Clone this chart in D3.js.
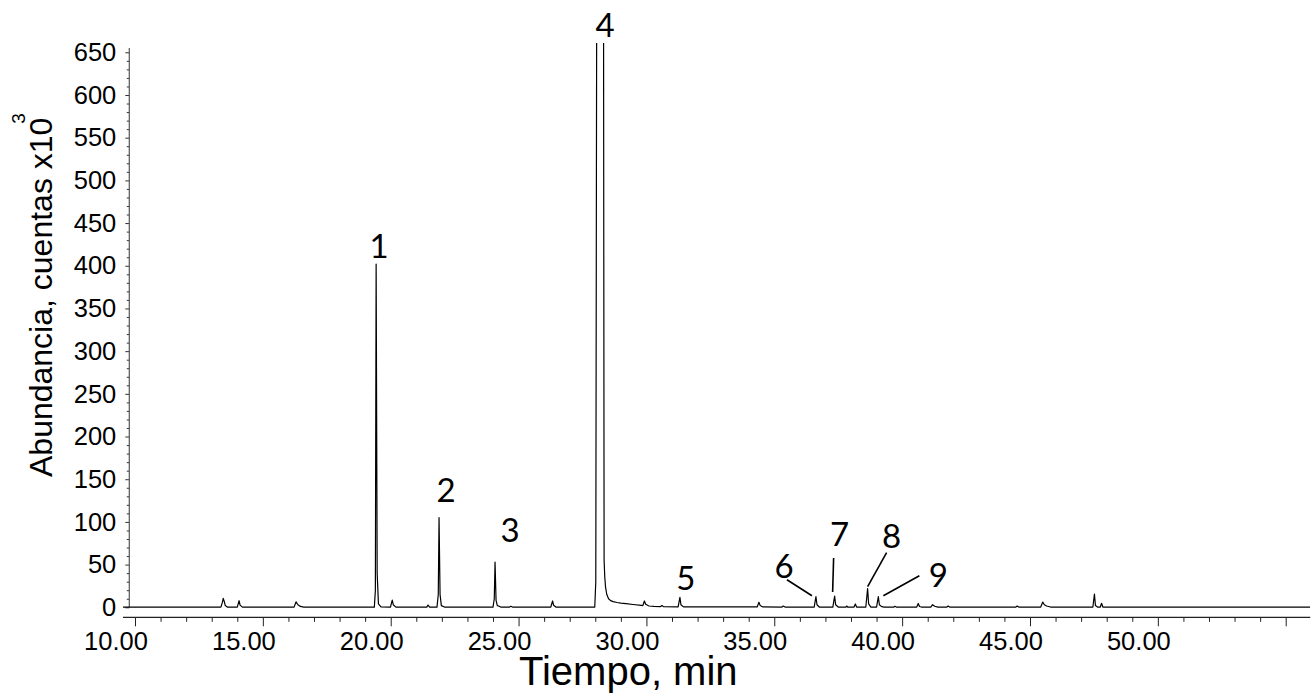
<!DOCTYPE html>
<html>
<head>
<meta charset="utf-8">
<script src="https://cdn.jsdelivr.net/npm/d3@7"></script>
<style>
  html, body { margin: 0; padding: 0; background: #fff; }
  svg { display: block; }
  .tick text { font-family: "Liberation Sans", Arial, sans-serif; fill: #000; }
</style>
</head>
<body>
<svg id="chart" width="1311" height="695"></svg>
<script>
// Chromatogram trace: retention time (min) and abundance (counts x10^3)
const traceTime = [
  9.53, 13.36, 13.42, 13.45, 13.49, 13.53, 13.62,
  14.00, 14.07, 14.11, 14.20,
  16.22, 16.30, 16.37, 16.47, 16.60,
  19.36, 19.40, 19.43, 19.47, 19.52, 19.62,
  19.99, 20.06, 20.10, 20.20,
  21.41, 21.46, 21.52,
  21.81, 21.86, 21.89, 21.93, 21.98, 22.10,
  24.00, 24.05, 24.08, 24.12, 24.17, 24.22, 24.30,
  24.65, 24.70, 24.76,
  26.26, 26.33, 26.37, 26.46,
  27.98, 28.02, 28.06, 28.19, 28.32, 28.345, 28.37, 28.40, 28.45, 28.52, 28.60, 28.70, 28.85, 29.00, 29.20, 29.48, 29.80,
  29.86, 29.92, 29.97, 30.10, 30.30,
  30.55, 30.60, 30.66,
  31.24, 31.31, 31.35, 31.45,
  34.33, 34.40, 34.45, 34.55,
  35.30, 35.35, 35.42,
  36.56, 36.63, 36.67, 36.76,
  37.29, 37.36, 37.40, 37.50,
  37.80, 37.83, 37.87,
  38.12, 38.17, 38.22,
  38.58, 38.65, 38.69, 38.78,
  39.00, 39.07, 39.11, 39.20, 39.30,
  39.68, 39.72, 39.77,
  40.57, 40.63, 40.68, 40.75,
  41.12, 41.19, 41.27, 41.40,
  41.75, 41.80, 41.86,
  44.45, 44.50, 44.56,
  45.42, 45.50, 45.56, 45.65, 45.80,
  47.46, 47.52, 47.56, 47.64,
  47.75, 47.80, 47.85,
  55.96
];
const traceAbund = [
  0.2, 0.2, 6.0, 10.5, 7.0, 2.0, 0.2,
  0.2, 7.7, 2.5, 0.2,
  0.2, 6.5, 3.0, 1.0, 0.2,
  0.2, 20, 402, 40, 4.0, 0.6,
  0.2, 8.5, 3.0, 0.2,
  0.2, 2.7, 0.2,
  0.2, 15, 105, 15, 2.0, 0.3,
  0.3, 10, 53, 8, 2.0, 1.5, 0.3,
  0.3, 1.2, 0.3,
  0.3, 7.4, 2.5, 0.3,
  0.3, 30, 800, 2500, 800, 55, 36, 24, 15, 10, 7.8, 6.6, 5.6, 4.9, 4.2, 3.3, 2.2,
  2.0, 7.4, 3.5, 1.5, 1.0,
  0.8, 2.0, 0.8,
  0.6, 11.7, 3.0, 0.5,
  0.4, 5.9, 2.0, 0.4,
  0.3, 1.5, 0.3,
  0.3, 12.4, 3.0, 0.3,
  0.3, 13.2, 3.0, 0.3,
  0.3, 1.5, 0.3,
  0.3, 3.9, 0.3,
  0.3, 22, 4.0, 0.3,
  0.3, 12.4, 3.0, 0.8, 0.3,
  0.3, 1.2, 0.3,
  0.3, 4.5, 1.0, 0.3,
  0.3, 3.0, 1.2, 0.3,
  0.3, 1.5, 0.3,
  0.3, 1.5, 0.3,
  0.3, 6.2, 3.0, 1.5, 0.3,
  0.3, 15.6, 2.0, 0.3,
  0.3, 4.7, 0.3,
  0.2
];

// Numbered compounds: label, retention time, apex abundance
const peakLabels = ["1", "2", "3", "4", "5", "6", "7", "8", "9"];
const peakTimes  = [19.43, 21.89, 24.08, 28.19, 31.31, 36.63, 37.36, 38.65, 39.07];
const peakApex   = [402, 105, 53, 660, 11.7, 12.4, 13.2, 22, 12.4];

// Axis ticks
const yMajorTicks = d3.range(0, 651, 50);
const yMinorTicks = d3.range(0, 651, 10).filter(v => v % 50 !== 0);
const xMajorTicks = [10, 15, 20, 25, 30, 35, 40, 45, 50, 55];
const xTickLabels = ["10.00", "15.00", "20.00", "25.00", "30.00", "35.00", "40.00", "45.00", "50.00", ""];
const xMinorTicks = d3.range(10, 57, 1).filter(v => v % 5 !== 0);

const svg = d3.select("#chart");

const x = d3.scaleLinear().domain([10, 55]).range([135, 1285.7]);
const y = d3.scaleLinear().domain([0, 650]).range([607.3, 52.3]);

const xStart = traceTime[0], xEnd = traceTime[traceTime.length - 1];
const yAxisX = 129.3;
const xAxisY = 617.3;

// clip the trace to the plotting region (the main peak runs off the top)
svg.append("defs").append("clipPath").attr("id", "plot-clip")
  .append("rect")
  .attr("x", x(xStart)).attr("y", 43)
  .attr("width", x(xEnd) - x(xStart)).attr("height", xAxisY - 43);

// ---- Y axis ----
const gy = svg.append("g").attr("transform", `translate(${yAxisX},0)`);
gy.call(d3.axisLeft(y).tickValues(yMajorTicks).tickSize(4).tickPadding(9).tickSizeOuter(0));
gy.select(".domain").remove();
gy.selectAll(".tick line").attr("stroke", "#333");
gy.selectAll(".tick text").style("font-size", "25.5px");

const gyMinor = svg.append("g").attr("transform", `translate(${yAxisX},0)`);
gyMinor.call(d3.axisLeft(y).tickValues(yMinorTicks).tickSize(2.5).tickFormat(""));
gyMinor.select(".domain").remove();
gyMinor.selectAll(".tick line").attr("stroke", "#333");

svg.append("line")
  .attr("x1", yAxisX).attr("x2", yAxisX)
  .attr("y1", y(655)).attr("y2", y(0))
  .attr("stroke", "#555").attr("stroke-width", 1.2);

// ---- X axis ----
const gx = svg.append("g").attr("transform", `translate(0,${xAxisY})`);
gx.call(d3.axisBottom(x).tickValues(xMajorTicks).tickSize(9).tickPadding(6)
  .tickFormat((d, i) => xTickLabels[i]));
gx.select(".domain").remove();
gx.selectAll(".tick line").attr("stroke", "#222");
gx.selectAll(".tick text").style("font-size", "25.5px").attr("dx", -19.5);

const gxMinor = svg.append("g").attr("transform", `translate(0,${xAxisY})`);
gxMinor.call(d3.axisBottom(x).tickValues(xMinorTicks).tickSize(4.5).tickFormat(""));
gxMinor.select(".domain").remove();
gxMinor.selectAll(".tick line").attr("stroke", "#222");

svg.append("line")
  .attr("x1", x(xStart)).attr("x2", x(xEnd))
  .attr("y1", xAxisY).attr("y2", xAxisY)
  .attr("stroke", "#222").attr("stroke-width", 1.2);

// ---- trace ----
const pts = traceTime.map((t, i) => [t, traceAbund[i]]);
const line = d3.line().x(d => x(d[0])).y(d => y(d[1]));
svg.append("path")
  .datum(pts)
  .attr("clip-path", "url(#plot-clip)")
  .attr("d", line)
  .attr("fill", "none")
  .attr("stroke", "#000")
  .attr("stroke-width", 1.2)
  .attr("stroke-linejoin", "round");

// ---- peak numbers ----
// label offsets from each apex, plus leader lines for the crowded group
const labelOffset = {
  "1": [3, -6], "2": [7, -16], "3": [15, -20], "4": [5, null],
  "5": [6, -7], "6": [-32, -19], "7": [5, -50], "8": [24, -41], "9": [60, -10]
};
const leaders = {
  "6": [[-29, -17], [-4, -1]],
  "7": [[-1, -38], [-2, -4]],
  "8": [[19, -36], [0, -2]],
  "9": [[41, -21], [5, -1]]
};

const lab = svg.append("g")
  .style("font-family", "Lato, 'Open Sans', sans-serif")
  .style("font-size", "33px");

peakLabels.forEach((name, i) => {
  const px = x(peakTimes[i]);
  const py = y(peakApex[i]);
  const off = labelOffset[name];
  const ty = off[1] === null ? 37 : py + off[1];
  lab.append("text")
    .attr("x", px + off[0]).attr("y", ty)
    .attr("text-anchor", "middle")
    .attr("fill", "#000")
    .text(name);
  if (leaders[name]) {
    const [a, b] = leaders[name];
    svg.append("line")
      .attr("x1", px + a[0]).attr("y1", py + a[1])
      .attr("x2", px + b[0]).attr("y2", py + b[1])
      .attr("stroke", "#000").attr("stroke-width", 1.6);
  }
});

// ---- axis titles ----
svg.append("text")
  .attr("x", 519).attr("y", 685)
  .attr("text-anchor", "start")
  .style("font-family", "'Liberation Sans', Arial, sans-serif")
  .style("font-size", "40px")
  .text("Tiempo, min");

const yt = svg.append("text")
  .attr("transform", "translate(52,477) rotate(-90)")
  .attr("text-anchor", "start")
  .style("font-family", "'Liberation Sans', Arial, sans-serif")
  .style("font-size", "32px");
yt.append("tspan").text("Abundancia, cuentas x10");
yt.append("tspan").attr("dy", -27).attr("dx", -6).style("font-size", "19px").text("3");
</script>
</body>
</html>
